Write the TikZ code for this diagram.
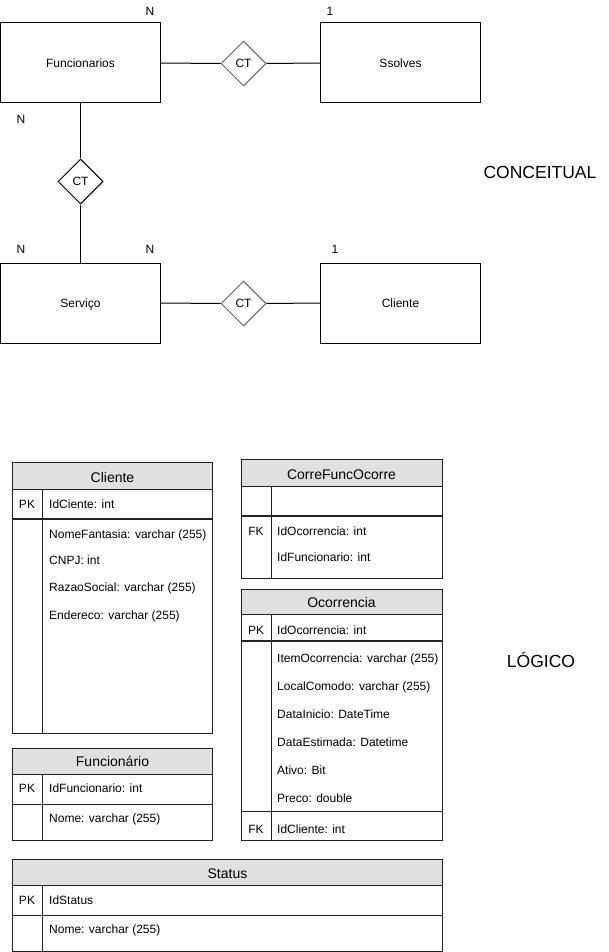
\documentclass[tikz,border=0pt]{standalone}
\usepackage{fontspec}
\setmainfont{Liberation Sans}
\usetikzlibrary{shapes.geometric}
\definecolor{hdrgray}{HTML}{E0E0E0}
\definecolor{relgray}{HTML}{666666}
\definecolor{tline}{HTML}{222222}
\newcommand{\fsz}[1]{\fontsize{#1}{#1}\selectfont}
\begin{document}
\begin{tikzpicture}[x=1pt,y=-1pt,
  entity/.style={draw, line width=1pt, minimum width=160pt, minimum height=80pt, inner sep=0pt, font=\fsz{12}, text height=8.6pt, text depth=0pt},
  relbox/.style={diamond, draw, line width=1pt, minimum width=45pt, minimum height=45pt, inner sep=0pt, font=\fsz{12}, text height=8.6pt, text depth=0pt},
  conn/.style={line width=1pt},
  card/.style={font=\fsz{12}, inner sep=0pt, text height=8.6pt, text depth=0pt},
  big/.style={font=\fsz{17.5}, inner sep=0pt, text height=12.5pt, text depth=0pt},
  tframe/.style={draw=tline, line width=1pt},
  thead/.style={draw=tline, line width=1pt, fill=hdrgray},
  sep/.style={draw=tline, line width=1.4pt},
  htxt/.style={font=\fsz{14}, inner sep=0pt, text height=10pt, text depth=0pt},
  ktxt/.style={font=\fsz{12}, inner sep=0pt, text height=8.6pt, text depth=0pt},
  rtxt/.style={font=\fsz{12}, inner sep=0pt, anchor=west, text height=8.6pt, text depth=0pt}
]
\useasboundingbox (0,0) rectangle (608,952);
\fill[white] (0,0) rectangle (608,952);

% ---------------- Conceptual ----------------
\node[entity] (func) at (80.5,63) {Funcionarios};
\node[entity] (ssol) at (400.5,63) {Ssolves};
\node[entity] (serv) at (80.5,303) {Serviço};
\node[entity] (cli) at (400.5,303) {Cliente};

\node[relbox, draw=relgray] (r1) at (243.5,63.5) {CT};
\node[relbox] (r2) at (80.5,181.5) {CT};
\node[relbox, draw=relgray] (r3) at (243.5,303.5) {CT};

\draw[conn] (func.east) -- (r1.west);
\draw[conn] (r1.east) -- (ssol.west);
\draw[conn] (func.south) -- (r2.north);
\draw[conn] (r2.south) -- (serv.north);
\draw[conn] (serv.east) -- (r3.west);
\draw[conn] (r3.east) -- (cli.west);

\node[card] (c1) at (150,11) {N};
\node[card] (c2) at (330,11) {1};
\node[card] (c3) at (21,119) {N};
\node[card] (c4) at (21,249) {N};
\node[card] (c5) at (150,249) {N};
\node[card] (c6) at (335,249) {1};

\node[big] (conc) at (540,172.5) {CONCEITUAL};
\node[big] (log) at (541,661.5) {LÓGICO};

% ---------------- Cliente table ----------------
\path[thead] (12.5,462.5) rectangle (212.5,489);
\path[tframe] (12.5,489) rectangle (212.5,733);
\path[sep] (12.5,519) -- (212.5,519);
\path[tframe] (42.5,489) -- (42.5,733);
\node[htxt] (tcli) at (112.5,477) {Cliente};
\node[ktxt] (k1) at (27,504) {PK};
\node[rtxt] (a1) at (49,504) {IdCiente: int};
\node[rtxt] (a2) at (49,534) {NomeFantasia: varchar (255)};
\node[rtxt] (a3) at (49,560) {CNPJ: int};
\node[rtxt] (a4) at (49,587.5) {RazaoSocial: varchar (255)};
\node[rtxt] (a5) at (49,615.5) {Endereco: varchar (255)};

% ---------------- CorreFuncOcorre table ----------------
\path[thead] (241,459.5) rectangle (442.5,486);
\path[tframe] (241,486) rectangle (442.5,578);
\path[sep] (241,516) -- (442.5,516);
\path[tframe] (271,486) -- (271,578);
\node[htxt] (tcor) at (341.5,474) {CorreFuncOcorre};
\node[ktxt] (k2) at (256,531) {FK};
\node[rtxt] (b1) at (277,531) {IdOcorrencia: int};
\node[rtxt] (b2) at (277,557) {IdFuncionario: int};

% ---------------- Ocorrencia table ----------------
\path[thead] (241,589) rectangle (442.5,614.5);
\path[tframe] (241,614.5) rectangle (442.5,840);
\path[sep] (241,641) -- (442.5,641);
\path[tframe] (241,811) -- (442.5,811);
\path[tframe] (271,614.5) -- (271,840);
\node[htxt] (toco) at (341.5,602.5) {Ocorrencia};
\node[ktxt] (k3) at (256,630) {PK};
\node[rtxt] (o1) at (277,630) {IdOcorrencia: int};
\node[rtxt] (o2) at (277,658) {ItemOcorrencia: varchar (255)};
\node[rtxt] (o3) at (277,686) {LocalComodo: varchar (255)};
\node[rtxt] (o4) at (277,714) {DataInicio: DateTime};
\node[rtxt] (o5) at (277,742) {DataEstimada: Datetime};
\node[rtxt] (o6) at (277,770) {Ativo: Bit};
\node[rtxt] (o7) at (277,798) {Preco: double};
\node[ktxt] (k4) at (256,829) {FK};
\node[rtxt] (o8) at (277,829) {IdCliente: int};

% ---------------- Funcionario table ----------------
\path[thead] (12.5,748.5) rectangle (212.5,774);
\path[tframe] (12.5,774) rectangle (212.5,840);
\path[tframe] (12.5,804) -- (212.5,804);
\path[tframe] (42.5,774) -- (42.5,840);
\node[htxt] (tfun) at (112.5,761) {Funcionário};
\node[ktxt] (k5) at (27,788.5) {PK};
\node[rtxt] (f1) at (49,788.5) {IdFuncionario: int};
\node[rtxt] (f2) at (49,818) {Nome: varchar (255)};

% ---------------- Status table ----------------
\path[thead] (12.5,859.5) rectangle (442.5,885);
\path[tframe] (12.5,885) rectangle (442.5,951);
\path[tframe] (12.5,915) -- (442.5,915);
\path[tframe] (42.5,885) -- (42.5,951);
\node[htxt] (tsta) at (227.5,873) {Status};
\node[ktxt] (k6) at (27,900) {PK};
\node[rtxt] (s1) at (49,900) {IdStatus};
\node[rtxt] (s2) at (49,929) {Nome: varchar (255)};
\end{tikzpicture}
\end{document}
